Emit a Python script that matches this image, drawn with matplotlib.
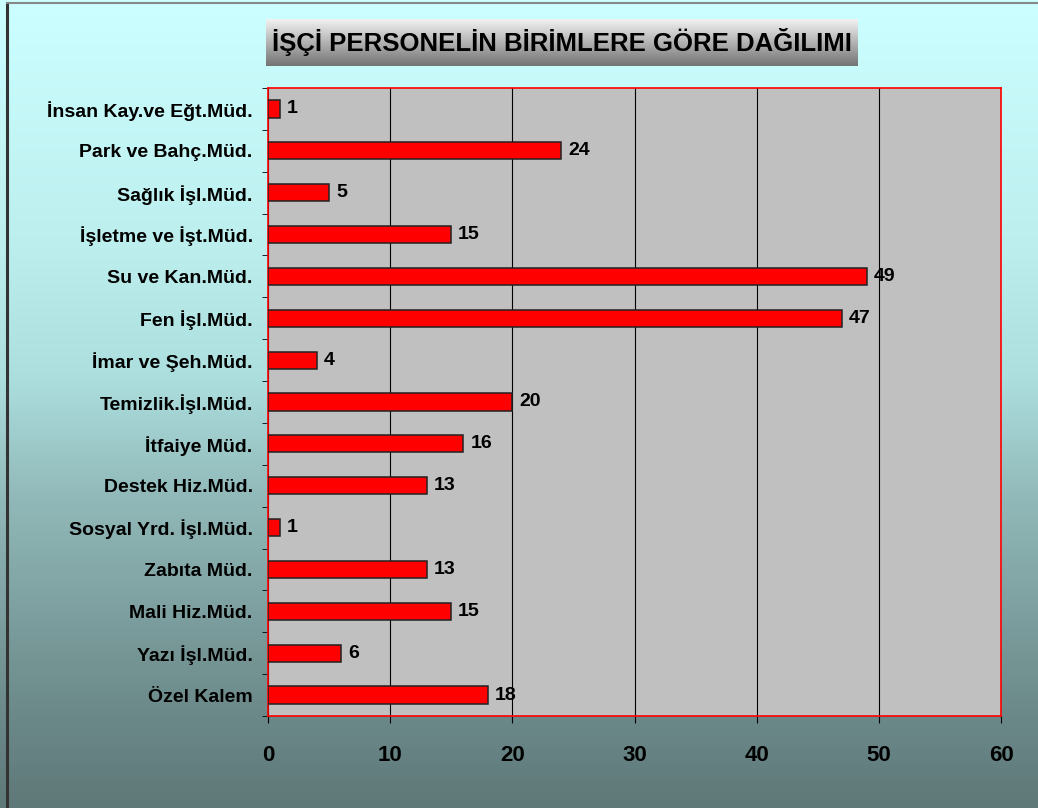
import numpy as np
import matplotlib
matplotlib.use("Agg")
import matplotlib.pyplot as plt
from matplotlib.lines import Line2D

categories = ["İnsan Kay.ve Eğt.Müd.", "Park ve Bahç.Müd.", "Sağlık İşl.Müd.",
              "İşletme ve İşt.Müd.", "Su ve Kan.Müd.", "Fen İşl.Müd.",
              "İmar ve Şeh.Müd.", "Temizlik.İşl.Müd.", "İtfaiye Müd.",
              "Destek Hiz.Müd.", "Sosyal Yrd. İşl.Müd.", "Zabıta Müd.",
              "Mali Hiz.Müd.", "Yazı İşl.Müd.", "Özel Kalem"]
values = [1, 24, 5, 15, 49, 47, 4, 20, 16, 13, 1, 13, 15, 6, 18]
x_ticks = [0, 10, 20, 30, 40, 50, 60]
title = "İŞÇİ PERSONELİN BİRİMLERE GÖRE DAĞILIMI"

plt.rcParams['font.family'] = ['Liberation Sans', 'DejaVu Sans']
plt.rcParams['font.weight'] = 'bold'

W, H = 1038, 808
fig = plt.figure(figsize=(W / 100, H / 100), dpi=100)

# background gradient (vertical, cyan to grey-teal)
bg = fig.add_axes([0, 0, 1, 1], zorder=0)
ys = np.linspace(0, H, 400)
stop_y = [0, 250, 380, 500, 700, 808]
stop_r = [204, 188, 172, 145, 110, 95]
stop_g = [255, 238, 222, 184, 140, 120]
r = np.interp(ys, stop_y, stop_r) / 255
gch = np.interp(ys, stop_y, stop_g) / 255
img = np.stack([r, gch, gch], axis=-1)[:, None, :]
img = np.repeat(img, 2, axis=1)
bg.imshow(img, aspect='auto', extent=[0, 1, 0, 1], origin='upper')
bg.set_xlim(0, 1)
bg.set_ylim(0, 1)
bg.axis('off')

# outer frame lines (left, top)
fig.add_artist(Line2D([6.5 / W, 6.5 / W], [0, 1 - 2.5 / H], transform=fig.transFigure,
                      color='#333333', lw=2.2, zorder=5))
fig.add_artist(Line2D([6.5 / W, 1], [1 - 2.5 / H, 1 - 2.5 / H], transform=fig.transFigure,
                      color='#888888', lw=1.5, zorder=5))

# main axes
L, R, T, B = 268, 1001, 88, 716
ax = fig.add_axes([L / W, 1 - B / H, (R - L) / W, (B - T) / H], zorder=2)
ax.set_facecolor('#C0C0C0')
n = len(categories)
pos = np.arange(n)[::-1]
ax.barh(pos, values, height=0.41, color='#FF0000', edgecolor='#222222', linewidth=1.1, zorder=3)
ax.set_xlim(0, 60)
ax.set_ylim(-0.5, n - 0.5)
ax.set_xticks(x_ticks)
ax.set_xticklabels([str(t) for t in x_ticks], fontsize=16, fontweight='bold')
ax.set_yticks(pos)
ax.set_yticklabels(categories, fontsize=14, fontweight='bold')
ax.set_yticks(np.arange(-0.5, n, 1), minor=True)
ax.tick_params(axis='y', which='major', length=0, pad=11)
ax.tick_params(axis='y', which='minor', length=4, direction='out', color='black')
ax.tick_params(axis='x', which='major', length=5, direction='out', color='black', pad=16)
ax.grid(axis='x', color='black', linewidth=0.8, zorder=1)
ax.set_axisbelow(True)
for s in ax.spines.values():
    s.set_color('#FF0000')
    s.set_linewidth(1.2)

for p, v in zip(pos, values):
    ax.annotate(str(v), (v, p), xytext=(5, 0), textcoords='offset points',
                va='center', ha='left', fontsize=14, fontweight='bold', zorder=4)

# title box with gradient
tx0, tx1, ty0, ty1 = 266, 858, 19, 66
tax = fig.add_axes([tx0 / W, 1 - ty1 / H, (tx1 - tx0) / W, (ty1 - ty0) / H], zorder=3)
tg = np.linspace(0, 1, 200)[:, None, None]
ttop = np.array([245, 245, 245]) / 255
tbot = np.array([115, 115, 115]) / 255
timg = np.repeat(ttop * (1 - tg) + tbot * tg, 2, axis=1)
tax.imshow(timg, aspect='auto', extent=[0, 1, 0, 1], origin='upper')
tax.set_xlim(0, 1)
tax.set_ylim(0, 1)
tax.axis('off')
tax.text(0.5, 0.5, title, ha='center', va='center', fontsize=18.5, fontweight='bold', color='black')

fig.savefig('out.png', dpi=100)
